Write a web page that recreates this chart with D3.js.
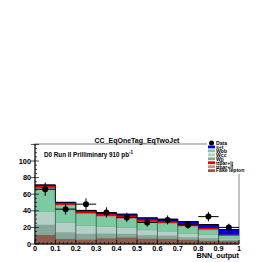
<!DOCTYPE html>
<html>
<head>
<meta charset="utf-8">
<script src="https://cdn.jsdelivr.net/npm/d3@7"></script>
<style>
  body { margin: 0; background: #fff; }
  text { font-family: "Liberation Sans", Arial, sans-serif; font-weight: bold; }
</style>
</head>
<body>
<div id="viz"></div>
<script>
// BNN output, CC one tag two jets, stacked backgrounds + data
var binLow = [0, 0.1, 0.2, 0.3, 0.4, 0.5, 0.6, 0.7, 0.8, 0.9];
var binWidth = 0.1;

// stack from bottom to top
var fake = [10.8, 6.0, 5.5, 7.0, 8.0, 6.5, 6.0, 5.0, 4.0, 3.5];
var wjj  = [12.2, 8.0, 6.5, 5.5, 4.0, 4.0, 4.0, 3.0, 3.0, 1.5];
var wcc  = [16.0, 12.0, 10.0, 8.5, 7.5, 6.5, 5.5, 5.0, 4.0, 2.0];
var wbb  = [28.0, 20.5, 14.5, 12.0, 11.0, 9.5, 9.0, 8.0, 6.0, 3.0];
var ttll = [1.0, 0.8, 0.8, 1.0, 1.0, 1.0, 1.0, 1.0, 1.0, 0.5];
var ttlj = [2.5, 2.2, 2.2, 2.3, 2.5, 2.0, 2.0, 2.0, 1.5, 1.0];
var st   = [0.7, 0.8, 1.0, 1.2, 2.0, 2.0, 2.5, 3.0, 4.0, 6.0];

var data = [66, 42, 48, 38, 32, 26, 29, 23, 33, 20];

var layerNames  = ["Fake lepton", "Wjj", "Wcc", "Wbb", "ttbar+ll", "ttbar+lj", "s+t"];
var layerColors = ["#8c5c4c", "#86a89a", "#b2d0c6", "#7cc9a2", "#cc8a88", "#e00000", "#0000e0"];
var layers = [fake, wjj, wcc, wbb, ttll, ttlj, st];

var legendNames  = ["Data", "s+t", "Wbb", "Wcc", "Wjj", "ttbar+lj", "ttbar+ll", "Fake lepton"];
var legendColors = ["#000", "#0000e0", "#7cc9a2", "#b2d0c6", "#86a89a", "#e00000", "#cc8a88", "#8c5c4c"];

var xTicks = [0, 0.1, 0.2, 0.3, 0.4, 0.5, 0.6, 0.7, 0.8, 0.9, 1];
var yTicks = [0, 20, 40, 60, 80, 100];

var W = 279, H = 262;
var padL = 35, padR = 239, padT = 144, padB = 244;

var svg = d3.select("#viz").append("svg")
    .attr("width", W).attr("height", H);

var x = d3.scaleLinear().domain([0, 1]).range([padL, padR]);
var y = d3.scaleLinear().domain([0, 120.5]).range([padB, padT]);

// frame
svg.append("rect")
    .attr("x", padL).attr("y", padT)
    .attr("width", padR - padL).attr("height", padB - padT)
    .attr("fill", "#fff").attr("stroke", "#999").attr("stroke-width", 1.2);

// stacked layers drawn as boxes per bin
var stacked = binLow.map(function() { return 0; });
layers.forEach(function(vals, li) {
    var g = svg.append("g");
    vals.forEach(function(v, i) {
        var y0 = stacked[i], y1 = y0 + v;
        g.append("rect")
            .attr("x", x(binLow[i]))
            .attr("y", y(y1))
            .attr("width", x(binLow[i] + binWidth) - x(binLow[i]))
            .attr("height", y(y0) - y(y1))
            .attr("fill", layerColors[li])
            .attr("stroke", d3.color(layerColors[li]).darker(0.6))
            .attr("stroke-width", 0.4);
        stacked[i] = y1;
    });
});

// total outline
var totalPts = [];
binLow.forEach(function(b, i) {
    totalPts.push([x(b), y(stacked[i])]);
    totalPts.push([x(b + binWidth), y(stacked[i])]);
});
svg.append("path")
    .attr("d", d3.line()(totalPts))
    .attr("fill", "none").attr("stroke", "#000").attr("stroke-width", 1);
binLow.forEach(function(b, i) {
    if (i == 0) return;
    svg.append("line")
        .attr("x1", x(b)).attr("x2", x(b))
        .attr("y1", y(Math.max(stacked[i], stacked[i-1]))).attr("y2", y(0))
        .attr("stroke", "#333").attr("stroke-width", 0.6);
});

// data with error bars
var dg = svg.append("g");
data.forEach(function(n, i) {
    var cx = x(binLow[i] + binWidth / 2);
    var e = Math.sqrt(n);
    dg.append("line")
        .attr("x1", x(binLow[i])).attr("x2", x(binLow[i] + binWidth))
        .attr("y1", y(n)).attr("y2", y(n))
        .attr("stroke", "#000").attr("stroke-width", 1);
    dg.append("line")
        .attr("x1", cx).attr("x2", cx)
        .attr("y1", y(n - e)).attr("y2", y(n + e))
        .attr("stroke", "#000").attr("stroke-width", 1);
    dg.append("circle")
        .attr("cx", cx).attr("cy", y(n)).attr("r", 3)
        .attr("fill", "#000");
});

// axes
svg.append("line").attr("x1", padL).attr("x2", padL).attr("y1", padT).attr("y2", padB)
    .attr("stroke", "#000").attr("stroke-width", 1);
svg.append("line").attr("x1", padL).attr("x2", padR).attr("y1", padB).attr("y2", padB)
    .attr("stroke", "#000").attr("stroke-width", 1);

d3.range(0, 121, 5).forEach(function(v) {
    var major = v % 20 == 0;
    svg.append("line")
        .attr("x1", major ? padL - 4 : padL).attr("x2", padL + (major ? 4 : 2))
        .attr("y1", y(v)).attr("y2", y(v))
        .attr("stroke", "#000").attr("stroke-width", 0.7);
});
d3.range(0, 51).forEach(function(k) {
    var v = k * 0.02;
    var major = k % 5 == 0;
    svg.append("line")
        .attr("x1", x(v)).attr("x2", x(v))
        .attr("y1", padB).attr("y2", padB - (major ? 4 : 2))
        .attr("stroke", "#000").attr("stroke-width", 0.7);
});

svg.append("g").selectAll("text").data(yTicks).enter().append("text")
    .attr("x", padL - 4).attr("y", function(d) { return y(d) + 2.5; })
    .attr("text-anchor", "end").attr("font-size", 7.3)
    .text(function(d) { return d; });
svg.append("g").selectAll("text").data(xTicks).enter().append("text")
    .attr("x", function(d) { return x(d); }).attr("y", 251)
    .attr("text-anchor", "middle").attr("font-size", 7.3)
    .text(function(d) { return d; });

svg.append("text").attr("x", padR).attr("y", 258)
    .attr("text-anchor", "end").attr("font-size", 7.3).text("BNN_output");

// title and label
svg.append("text").attr("x", 137).attr("y", 143)
    .attr("text-anchor", "middle").attr("font-size", 7).text("CC_EqOneTag_EqTwoJet");
var lab = svg.append("text").attr("x", 44).attr("y", 156.5).attr("font-size", 6.3);
lab.append("tspan").text("D0 Run II Prilliminary 910 pb");
lab.append("tspan").attr("dy", -2.5).attr("font-size", 4.5).text("-1");

// legend
var lg = svg.append("g");
lg.append("rect").attr("x", 207).attr("y", 139).attr("width", 50).attr("height", 35)
    .attr("fill", "#fff");
legendNames.forEach(function(name, i) {
    var ly = 143 + i * 3.95;
    if (i == 0) {
        lg.append("circle").attr("cx", 211.5).attr("cy", ly).attr("r", 2.5).attr("fill", "#000");
    } else {
        lg.append("rect").attr("x", 208).attr("y", ly - 1.4).attr("width", 7).attr("height", 2.8)
            .attr("fill", legendColors[i]);
    }
    lg.append("text").attr("x", 216).attr("y", ly + 1.8).attr("font-size", 5.1).text(name);
});
</script>
</body>
</html>
